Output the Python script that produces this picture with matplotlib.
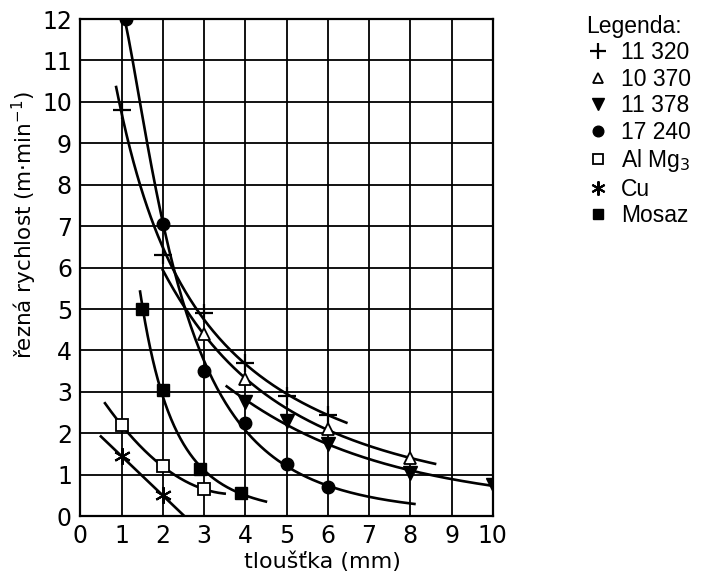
import numpy as np
import matplotlib
matplotlib.use("Agg")
import matplotlib.pyplot as plt

# ---- data ----
labels = ["11 320", "10 370", "11 378", "17 240", "Al Mg$_3$", "Cu", "Mosaz"]

x_11320 = [1, 2, 3, 4, 5, 6]
y_11320 = [9.8, 6.3, 4.9, 3.7, 2.9, 2.45]

x_10370 = [3, 4, 6, 8]
y_10370 = [4.4, 3.3, 2.1, 1.4]

x_11378 = [4, 5, 6, 8, 10]
y_11378 = [2.75, 2.3, 1.75, 1.05, 0.75]

x_17240 = [1.1, 2, 3, 4, 5, 6]
y_17240 = [12.0, 7.05, 3.5, 2.25, 1.25, 0.7]

x_almg = [1, 2, 3]
y_almg = [2.2, 1.2, 0.65]

x_cu = [1, 2]
y_cu = [1.45, 0.5]

x_mosaz = [1.5, 2, 2.9, 3.9]
y_mosaz = [5.0, 3.05, 1.15, 0.55]

# x-range over which each trend curve is drawn
curve_span = [(0.87, 6.45), (2.0, 8.6), (3.55, 10.0), (1.1, 8.1),
              (0.6, 3.5), (0.5, 2.5), (1.45, 4.5)]

series = [
    (x_11320, y_11320, dict(marker="+", ms=13, mew=1.6, color="black")),
    (x_10370, y_10370, dict(marker="^", ms=9, mfc="white", mec="black", mew=1.3)),
    (x_11378, y_11378, dict(marker="v", ms=10, color="black")),
    (x_17240, y_17240, dict(marker="o", ms=9, color="black")),
    (x_almg, y_almg, dict(marker="s", ms=9, mfc="white", mec="black", mew=1.3)),
    (x_cu, y_cu, dict(marker=(6, 2, 0), ms=12, mew=1.5, color="black")),
    (x_mosaz, y_mosaz, dict(marker="s", ms=9, color="black")),
]

fig = plt.figure(figsize=(7.04, 5.78), dpi=100)
ax = fig.add_axes([0.114, 0.107, 0.586, 0.860])

for (xs, ys, style), (x0, x1), lab in zip(series, curve_span, labels):
    xs = np.asarray(xs, float)
    ys = np.asarray(ys, float)
    xx = np.linspace(x0, x1, 200)
    if len(xs) >= 4:
        c = np.polyfit(np.log(xs), np.log(ys), 2)
        yy = np.exp(np.polyval(c, np.log(xx)))
    else:
        c = np.polyfit(xs, ys, len(xs) - 1)
        yy = np.polyval(c, xx)
    ax.plot(xx, yy, color="black", lw=1.9, zorder=3)
    ax.plot(xs, ys, ls="none", label=lab, zorder=4, **style)

ax.set_xlim(0, 10)
ax.set_ylim(0, 12)
ax.set_xticks(range(0, 11))
ax.set_yticks(range(0, 13))
ax.grid(True, color="black", lw=1.3)
ax.tick_params(length=0, labelsize=17, pad=6)
for s in ax.spines.values():
    s.set_linewidth(1.6)

ax.set_xlabel("tloušťka (mm)", fontsize=16)
ax.set_ylabel("řezná rychlost (m·min$^{-1}$)", fontsize=15.5)
ax.xaxis.set_label_coords(0.586, -0.072)
ax.yaxis.set_label_coords(-0.10, 0.585)

leg = fig.legend(loc="upper left", bbox_to_anchor=(0.82, 0.99), frameon=False,
                 title="Legenda:", alignment="left",
                 prop={"family": "Liberation Sans", "size": 16.5},
                 handletextpad=0.5, labelspacing=0.15, handlelength=1.0,
                 markerscale=0.85, borderaxespad=0)
leg.get_title().set_fontfamily("Liberation Sans")
leg.get_title().set_fontsize(16.5)

fig.savefig("out.png", dpi=100)
